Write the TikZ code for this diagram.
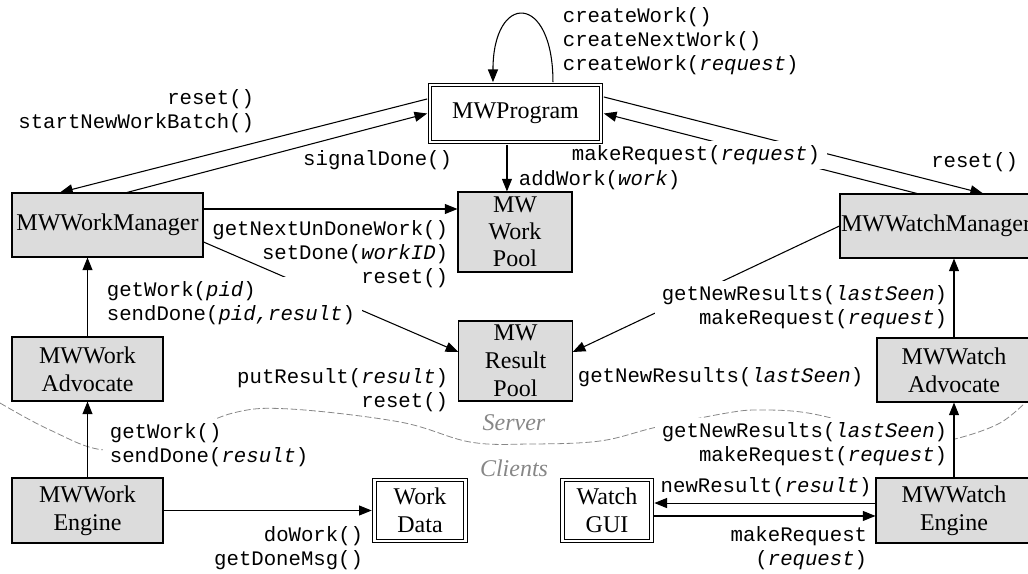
\documentclass[tikz,border=0pt]{standalone}
\usepackage{fontspec}
\setmainfont{Liberation Serif}
\setmonofont{Liberation Mono}
\usetikzlibrary{arrows.meta,calc}
\definecolor{boxgray}{RGB}{220,220,220}
\definecolor{sepgray}{RGB}{135,135,135}
\pgfdeclarelayer{edges}
\pgfdeclarelayer{labels}
\pgfdeclarelayer{front}
\pgfsetlayers{edges,labels,main,front}
\begin{document}
\begin{tikzpicture}[x=0.75pt,y=-0.75pt,
  box/.style={draw=black,fill=boxgray,line width=0.8pt,inner sep=0pt,align=center,font=\fontsize{18}{21}\selectfont},
  dbox/.style={draw=black,double=white,double distance=1.8pt,line width=0.75pt,fill=white,inner sep=0pt,align=center,font=\fontsize{18}{21}\selectfont,outer sep=2pt},
  lbl/.style={inner xsep=5pt,inner ysep=3.5pt,font=\ttfamily\fontsize{15.5}{18}\selectfont},
  lblw/.style={lbl,fill=white},
  conn/.style={line width=0.8pt,-{Triangle[length=9.5pt,width=7.5pt]}},
  sepline/.style={draw=sepgray,line width=0.6pt,dash pattern=on 5pt off 2pt},
  side/.style={text=sepgray,font=\itshape\fontsize{18}{21}\selectfont}]
\useasboundingbox (0,0) rectangle (1028,574);

% nodes
\node[dbox,minimum width=128.5pt,minimum height=43pt] (prog) at (515.5,113.5) {MWProgram};
\node[box,minimum width=85.5pt,minimum height=60pt,font=\fontsize{18}{20.3}\selectfont] (wpool) at (515,232) {MW\\Work\\Pool};
\node[box,minimum width=85pt,minimum height=60pt] (rpool) at (515.5,361) {MW\\Result\\Pool};
\node[box,minimum width=143.25pt,minimum height=48pt] (wman) at (107.5,225) {MWWorkManager};
\node[box,minimum width=113.25pt,minimum height=48pt] (wadv) at (87.5,369) {MWWork\\Advocate};
\node[box,minimum width=113.25pt,minimum height=48.75pt] (weng) at (87.5,510.5) {MWWork\\Engine};
\node[dbox,minimum width=68.5pt,minimum height=45.5pt] (wdata) at (420,510.5) {Work\\Data};
\node[box,minimum width=144pt,minimum height=48pt] (wtman) at (936,226) {MWWatchManager};
\node[box,minimum width=115.5pt,minimum height=48pt] (wtadv) at (954,370) {MWWatch\\Advocate};
\node[box,minimum width=117pt,minimum height=48.75pt] (wteng) at (954,510.5) {MWWatch\\Engine};
\node[dbox,minimum width=67pt,minimum height=45.5pt] (gui) at (607,510.5) {Watch\\GUI};

% helper coordinates
\coordinate (p1) at ([xshift=-6.4pt]prog.south);
\coordinate (a7) at ([yshift=12pt]wman.east);
\coordinate (a17) at ([yshift=5.6pt]wteng.west);
\coordinate (a18) at ([yshift=-4.1pt]gui.east);

\begin{pgfonlayer}{edges}
% separator between server and clients
\draw[sepline] plot[smooth,tension=0.6] coordinates {(0,403) (50,430) (105,450) (170,438) (233,413) (290,409) (400,422) (470,442) (530,444) (600,441) (657,427) (727,413) (760,410) (808,413) (870,428) (925,442) (955,439) (1000,423) (1030,398)};
% connectors
\draw[conn] ([xshift=28.1pt]prog.north) .. controls +(0,-90) and +(0,-90) .. ([xshift=-16.9pt]prog.north);
\draw[conn] ([yshift=10.9pt]prog.west) -- ([xshift=-35.6pt]wman.north);
\draw[conn] ([xshift=14.6pt]wman.north) -- (prog.west);
\draw[conn] (p1) -- (p1 |- wpool.north);
\draw[conn] ([xshift=-14.25pt]wtman.north) -- (prog.east);
\draw[conn] ([yshift=12.4pt]prog.east) -- ([xshift=35.25pt]wtman.north);
\draw[conn] (a7) -- (a7 -| wpool.west);
\draw[conn] ([yshift=-12.75pt]wman.east) -- ([yshift=6.75pt]rpool.west);
\draw[conn] (wtman.west) -- ([yshift=6.75pt]rpool.east);
\draw[conn] (wadv.north) -- (wadv.north |- wman.south);
\draw[conn] (weng.north) -- (weng.north |- wadv.south);
\draw[conn] (weng.east) -- (wdata.west);
\draw[conn] (a17) -- (a17 -| gui.east);
\draw[conn] (a18) -- (a18 -| wteng.west);
\end{pgfonlayer}

\begin{pgfonlayer}{labels}
\node[lbl,anchor=east,align=right] (l1) at (261,111) {reset()\\startNewWorkBatch()};
\node[lbl,anchor=east] (l2) at (459,160) {signalDone()};
\node[lbl,anchor=west] (l3) at (512,180) {addWork(\textit{work})};
\node[lbl,anchor=west,align=left] (l4) at (556,41.5) {createWork()\\createNextWork()\\createWork(\textit{request})};
\node[lblw,anchor=west] (l5) at (565,155) {makeRequest(\textit{request})};
\node[lbl,anchor=east] (l6) at (1025,162) {reset()};
\node[lbl,anchor=east,align=right] (l7) at (455,254) {getNextUnDoneWork()\\setDone(\textit{workID})\\reset()};
\node[lblw,anchor=west,align=left] (l8) at (100,303.5) {getWork(\textit{pid})\\sendDone(\textit{pid,result})};
\node[lbl,anchor=east,align=right] (l9) at (455,390) {putResult(\textit{result})\\reset()};
\node[lblw,anchor=east,align=right] (l10) at (954,307.5) {getNewResults(\textit{lastSeen})\\makeRequest(\textit{request})};
\node[lbl,anchor=west] (l11) at (571,377) {getNewResults(\textit{lastSeen})};
\node[lblw,anchor=west,align=left] (l12) at (103,445) {getWork()\\sendDone(\textit{result})};
\node[lbl,anchor=east,align=right] (l13) at (370,548.5) {doWork()\\getDoneMsg()};
\node[lblw,anchor=east,align=right] (l14) at (954,444.5) {getNewResults(\textit{lastSeen})\\makeRequest(\textit{request})};
\node[lbl,anchor=east] (l15) at (878.5,487) {newResult(\textit{result})};
\node[lbl,anchor=east,align=right] (l16) at (874,548.5) {makeRequest\\(\textit{request})};
\node[side] (srv) at (514,423) {Server};
\node[side] (cli) at (514,468) {Clients};
\end{pgfonlayer}

\begin{pgfonlayer}{front}
\draw[conn] (wtadv.north) -- (wtadv.north |- wtman.south);
\draw[conn] (wteng.north) -- (wteng.north |- wtadv.south);
\end{pgfonlayer}
\end{tikzpicture}
\end{document}
